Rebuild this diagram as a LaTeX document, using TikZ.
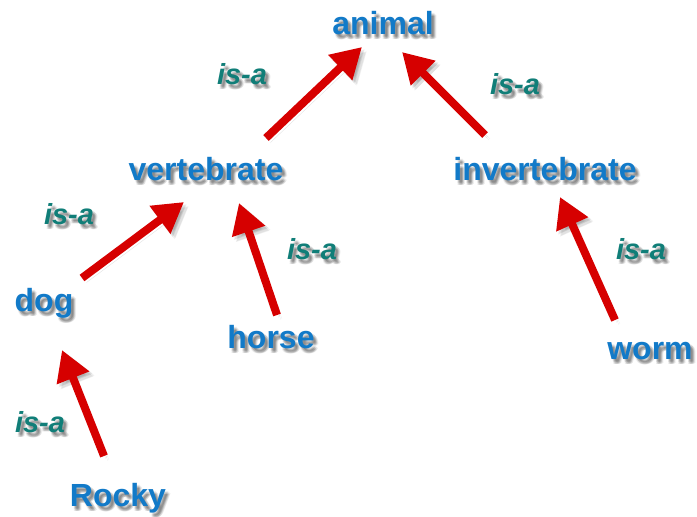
\documentclass[tikz,border=0pt]{standalone}
\usepackage{fontspec}
\setmainfont{Liberation Sans}
\newfontfamily\termfont{Liberation Sans Bold}
\newfontfamily\relfont{Liberation Sans Bold Italic}
\usetikzlibrary{arrows.meta,calc}

\definecolor{termblue}{RGB}{18,122,200}
\definecolor{isateal}{RGB}{16,126,120}
\definecolor{arrowred}{RGB}{214,0,0}

\tikzset{
  term/.style={font=\termfont\fontsize{32}{38}\selectfont, text=termblue, inner sep=0pt, anchor=base},
  rel/.style={font=\relfont\fontsize{29}{34}\selectfont, text=isateal, inner sep=0pt, anchor=base},
  shadowcopy/.style={text=black, opacity=0.07},
  isa/.style={
    draw=arrowred, line width=8pt,
    -{Triangle[length=30pt,width=33pt]},
    preaction={draw=black, opacity=0.06, transform canvas={shift={(2pt,-3pt)}}},
    preaction={draw=black, opacity=0.06, transform canvas={shift={(4pt,-5pt)}}},
    preaction={draw=black, opacity=0.06, transform canvas={shift={(3pt,-2pt)}}},
    preaction={draw=black, opacity=0.06, transform canvas={shift={(5pt,-4pt)}}},
  },
}

% a text label with a soft drop shadow beneath it
\newcommand\shadowlabel[4]{%
  \foreach \dx/\dy [count=\k] in {2/3,3/4,4/5,3/2,4/3,2/5,5/4,3/5}
    \node[#3, shadowcopy] (#1-sh\k) at ($(#2)+(\dx,\dy)$) {#4};
  \node[#3] (#1) at (#2) {#4};
}

\begin{document}
\begin{tikzpicture}[x=1pt, y=-1pt]
  \useasboundingbox (0,0) rectangle (697,517);
  \fill[white] (0,0) rectangle (697,517);

  % terms of the hierarchy
  \shadowlabel{animal}{383,34}{term}{animal}
  \shadowlabel{vertebrate}{206,180}{term}{vertebrate}
  \shadowlabel{invertebrate}{545,180}{term}{invertebrate}
  \shadowlabel{dog}{44,311}{term}{dog}
  \shadowlabel{horse}{271,348}{term}{horse}
  \shadowlabel{worm}{650,359}{term}{worm}
  \shadowlabel{Rocky}{118,506}{term}{Rocky}

  % relation labels
  \shadowlabel{r1}{242,84}{rel}{is-a}
  \shadowlabel{r2}{515,94}{rel}{is-a}
  \shadowlabel{r3}{69,224}{rel}{is-a}
  \shadowlabel{r4}{312,259}{rel}{is-a}
  \shadowlabel{r5}{40,432}{rel}{is-a}
  \shadowlabel{r6}{641,259}{rel}{is-a}

  % is-a links, child to parent
  \draw[isa] ([shift={(60,-42)}]vertebrate.base) -- ([shift={(-21,13)}]animal.base);
  \draw[isa] ([shift={(-60,-45)}]invertebrate.base) -- ([shift={(19,18)}]animal.base);
  \draw[isa] ([shift={(38,-33)}]dog.base) -- ([shift={(-22,22)}]vertebrate.base);
  \draw[isa] ([shift={(6,-33)}]horse.base) -- ([shift={(33,23)}]vertebrate.base);
  \draw[isa] ([shift={(-14,-50)}]Rocky.base) -- ([shift={(18,39)}]dog.base);
  \draw[isa] ([shift={(-35,-39)}]worm.base) -- ([shift={(15,17)}]invertebrate.base);
\end{tikzpicture}
\end{document}
